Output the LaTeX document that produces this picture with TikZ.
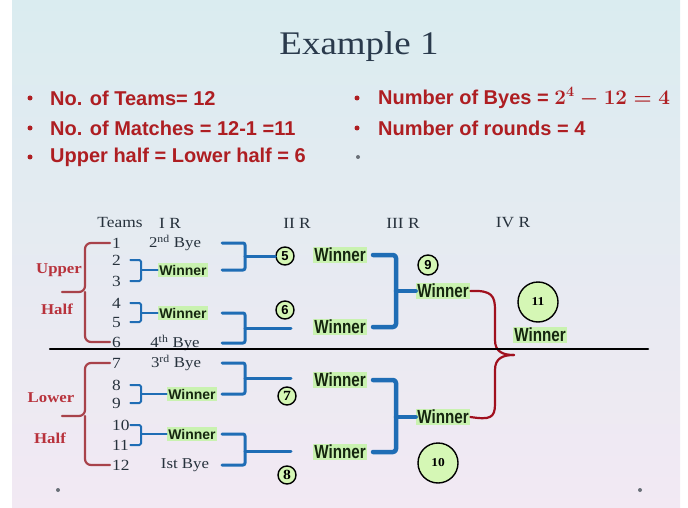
\documentclass[tikz,border=0pt]{standalone}
\usepackage{amsmath}
\usepackage{fontspec}
\usepackage{xcolor}
\usepackage{tikz}
\usetikzlibrary{positioning,calc}
\newfontfamily\slidesans{Liberation Sans}
\newfontfamily\narrowsans[FakeStretch=0.8]{Liberation Sans}
\newfontfamily\slideserif[FakeStretch=1.12]{Liberation Serif}
\definecolor{ink}{HTML}{26313C}
\definecolor{titleink}{HTML}{2A3A4C}
\definecolor{slidered}{HTML}{AE1E22}
\definecolor{halfred}{HTML}{B8323C}
\definecolor{bracered}{HTML}{A8424A}
\definecolor{finalred}{HTML}{A0101E}
\definecolor{pairblue}{HTML}{1F6DB5}
\definecolor{wingreen}{HTML}{C9F2B0}
\definecolor{circgreen}{HTML}{D5F7B5}
\definecolor{winink}{HTML}{15260F}
\definecolor{skytop}{HTML}{DAECF0}
\definecolor{skymid}{HTML}{CFE2F1}
\definecolor{skybot}{HTML}{F2E9F3}
\definecolor{dotgray}{HTML}{6A7078}
\tikzset{
    every picture/.style={line cap=round,line join=round},
    headlabel/.style={text=ink,inner sep=1pt,font=\slideserif\fontsize{15.5}{18}\selectfont},
    bulletline/.style={anchor=west,inner sep=0pt,text=slidered,
      font=\slidesans\bfseries\fontsize{20}{24}\selectfont},
    bulletdot/.style={circle,fill=#1,minimum size=5pt,inner sep=0pt},
    teamnum/.style={anchor=west,text width=16pt,align=left,inner sep=2pt,
      text=ink,font=\slideserif\fontsize{15.5}{17}\selectfont},
    byelabel/.style={inner sep=1pt,text=ink,font=\slideserif\fontsize{15}{17}\selectfont},
    firstwin/.style={fill=wingreen,text=winink,inner sep=1.5pt,
      font=\slidesans\bfseries\fontsize{14}{15}\selectfont},
    laterwin/.style={fill=wingreen,text=winink,inner xsep=1.5pt,inner ysep=1pt,
      font=\narrowsans\bfseries\fontsize{19}{20}\selectfont},
    matchno/.style={circle,draw=black,fill=circgreen,line width=1.4pt,
      minimum size=18pt,inner sep=0pt,font=\slidesans\bfseries\fontsize{13}{13}\selectfont},
    matchser/.style={matchno,font=\slideserif\bfseries\fontsize{14}{14}\selectfont},
    bigmatch/.style={matchno,minimum size=40pt,font=\slideserif\bfseries\fontsize{12}{12}\selectfont},
    halflabel/.style={text=halfred,font=\slideserif\bfseries\fontsize{15}{16}\selectfont},
    halfbrace/.style={draw=bracered,line width=2.2pt,rounded corners=6pt},
    pairbrace/.style={draw=pairblue,line width=2pt,rounded corners=1.5pt},
    roundtwo/.style={draw=pairblue,line width=3pt,rounded corners=2pt},
    roundthree/.style={draw=pairblue,line width=4.5pt,rounded corners=3pt},
    finalbrace/.style={draw=finalred,line width=2.2pt}
}

\begin{document}
\begin{tikzpicture}[x=1pt,y=-1pt]
    \useasboundingbox (0,0) rectangle (688,508);
    \fill[white] (0,0) rectangle (688,508);
    \shade[top color=skytop,middle color=skymid,bottom color=skybot] (12,0) rectangle (680,508);

    \node[text=titleink,font=\slideserif\fontsize{33}{36}\selectfont] (title) at (359,47) {Example 1};

    \node[bulletdot=slidered] (d1) at (30,98) {};
    \node[bulletdot=slidered] (d2) at (30,128) {};
    \node[bulletdot=slidered] (d3) at (30,157) {};
    \node[bulletdot=slidered] (d4) at (357,98) {};
    \node[bulletdot=slidered] (d5) at (357,128) {};
    \node[bulletdot=dotgray,minimum size=4pt] (d6) at (358,157) {};
    \node[bulletline] (l1) at (50,98) {No. of Teams= 12};
    \node[bulletline] (l2) at (50,128) {No. of Matches = 12-1 =11};
    \node[bulletline] (l3) at (50,157) {Upper half = Lower half = 6};
    \node[bulletline] (r1) at (378,98) {Number of Byes = {\boldmath$2^{4}-12=4$}};
    \node[bulletline] (r2) at (378,128) {Number of rounds = 4};

    \node[headlabel] (hteams) at (120,223) {Teams};
    \node[headlabel] (hone) at (170,223) {I R};
    \node[headlabel] (htwo) at (297,223) {II R};
    \node[headlabel] (hthree) at (403,223) {III R};
    \node[headlabel] (hfour) at (513,223) {IV R};

    \node[teamnum] (t1) at (110,243) {1};
    \node[teamnum] (t2) at (110,260) {2};
    \node[teamnum] (t3) at (110,281) {3};
    \node[teamnum] (t4) at (110,303) {4};
    \node[teamnum] (t5) at (110,322) {5};
    \node[teamnum] (t6) at (110,342) {6};
    \node[teamnum] (t7) at (110,363) {7};
    \node[teamnum] (t8) at (110,385) {8};
    \node[teamnum] (t9) at (110,403) {9};
    \node[teamnum] (t10) at (110,425) {10};
    \node[teamnum] (t11) at (110,445) {11};
    \node[teamnum] (t12) at (110,465) {12};

    \node[byelabel] (bye2) at (175,243) {2\textsuperscript{nd} Bye};
    \node[byelabel] (bye4) at (175,343) {4\textsuperscript{th} Bye};
    \node[byelabel] (bye3) at (176,363) {3\textsuperscript{rd} Bye};
    \node[byelabel] (bye1) at (185,465) {Ist Bye};

    \node[firstwin] (w23) at (183,270) {Winner};
    \node[firstwin] (w45) at (183,313) {Winner};
    \node[firstwin] (w89) at (192,394) {Winner};
    \node[firstwin] (w1011) at (192,434) {Winner};

    \node[halflabel] (up) at (59,270) {Upper};
    \node[halflabel] (uphalf) at (57,309) {Half};
    \node[halflabel] (low) at (51,398) {Lower};
    \node[halflabel] (lowhalf) at (50,438) {Half};

    \coordinate (ubar) at (85,292);
    \coordinate (utip) at (62,292);
    \coordinate (lbar) at (85,416);
    \coordinate (ltip) at (62,416);
    \draw[halfbrace] (t1.west) -| (ubar) -- (utip);
    \draw[halfbrace] (t6.west) -| (ubar);
    \draw[halfbrace] (t7.west) -| (lbar) -- (ltip);
    \draw[halfbrace] (t12.west) -| (lbar);

    \coordinate (c1) at (141,0);
    \draw[pairbrace] (t2.east) -- (t2.east -| c1) -- (t3.east -| c1) -- (t3.east);
    \draw[pairbrace] (w23.west -| c1) -- (w23.west);
    \draw[pairbrace] (t4.east) -- (t4.east -| c1) -- (t5.east -| c1) -- (t5.east);
    \draw[pairbrace] (w45.west -| c1) -- (w45.west);
    \draw[pairbrace] (t8.east) -- (t8.east -| c1) -- (t9.east -| c1) -- (t9.east);
    \draw[pairbrace] (w89.west -| c1) -- (w89.west);
    \draw[pairbrace] (t10.east) -- (t10.east -| c1) -- (t11.east -| c1) -- (t11.east);
    \draw[pairbrace] (w1011.west -| c1) -- (w1011.west);

    \node[matchno] (m5) at (285,256) {5};
    \node[matchno] (m6) at (285,310) {6};
    \node[matchser] (m7) at (287,396) {7};
    \node[matchser] (m8) at (287,475) {8};
    \node[laterwin] (w5) at (340,255) {Winner};
    \node[laterwin] (w6) at (340,327) {Winner};
    \node[laterwin] (w7) at (340,380) {Winner};
    \node[laterwin] (w8) at (340,452) {Winner};

    \coordinate (s2) at (222,0);
    \coordinate (c2) at (245,0);
    \coordinate (p6) at (291,328);
    \coordinate (p7) at (291,378);
    \coordinate (p8) at (291,451);
    \draw[roundtwo] (bye2.east -| s2) -- (bye2.east -| c2) -- (w23.east -| c2) -- (w23.east -| s2);
    \draw[roundtwo] (m5.west -| c2) -- (m5.west);
    \draw[roundtwo] (w45.east -| s2) -- (w45.east -| c2) -- (bye4.east -| c2) -- (bye4.east -| s2);
    \draw[roundtwo] (p6 -| c2) -- (p6);
    \draw[roundtwo] (bye3.east -| s2) -- (bye3.east -| c2) -- (w89.east -| c2) -- (w89.east -| s2);
    \draw[roundtwo] (p7 -| c2) -- (p7);
    \draw[roundtwo] (w1011.east -| s2) -- (w1011.east -| c2) -- (bye1.east -| c2) -- (bye1.east -| s2);
    \draw[roundtwo] (p8 -| c2) -- (p8);

    \node[laterwin] (w9) at (443,291) {Winner};
    \node[laterwin] (w10) at (443,417) {Winner};
    \node[matchno,minimum size=20pt] (m9) at (428,265) {9};
    \node[bigmatch] (m10) at (438,463) {10};

    \coordinate (s3) at (373,0);
    \coordinate (c3) at (396,0);
    \draw[roundthree] (w5.east -| s3) -- (w5.east -| c3) -- (w6.east -| c3) -- (w6.east -| s3);
    \draw[roundthree] (w9.west -| c3) -- (w9.west);
    \draw[roundthree] (w7.east -| s3) -- (w7.east -| c3) -- (w8.east -| c3) -- (w8.east -| s3);
    \draw[roundthree] (w10.west -| c3) -- (w10.west);

    \node[bigmatch] (m11) at (538,302) {11};
    \node[laterwin] (w11) at (540,335) {Winner};

    \coordinate (fin) at (514,355);
    \draw[finalbrace] (w9.east) .. controls (492,290) and (495,296) .. (495,310)
        -- (495,340) .. controls (495,352) and (503,355) .. (fin);
    \draw[finalbrace] (fin) .. controls (503,355) and (495,358) .. (495,370)
        -- (495,404) .. controls (495,418) and (490,420) .. (w10.east);

    \coordinate (divl) at (50,349);
    \coordinate (divr) at (648,349);
    \draw[line width=2.5pt] (divl) -- (divr);

    \node[bulletdot=dotgray,minimum size=4pt] (g1) at (58,490) {};
    \node[bulletdot=dotgray,minimum size=4pt] (g2) at (640,490) {};
\end{tikzpicture}
\end{document}
